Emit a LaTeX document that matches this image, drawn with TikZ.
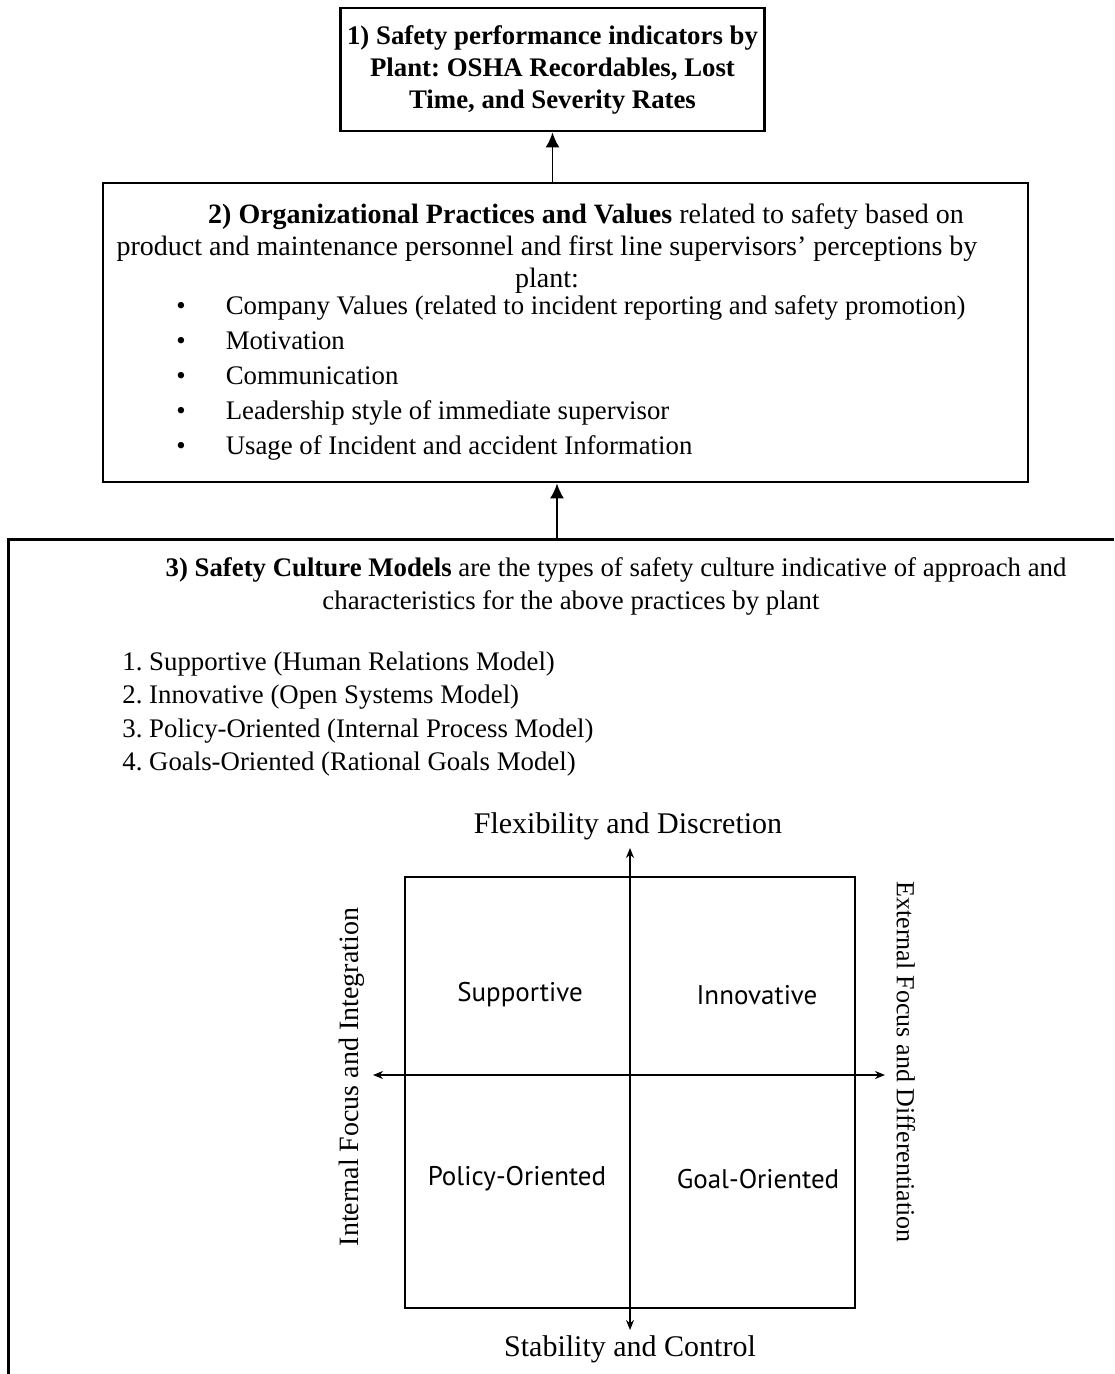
\documentclass[tikz,border=0pt]{standalone}
\usepackage{fontspec}
\setmainfont{Liberation Serif}
\newfontfamily\quadfont{PT Sans}
\usetikzlibrary{positioning, arrows.meta}
\frenchspacing

\tikzset{
  linkarrow/.style={-{Latex[length=7.5pt, width=7pt]}, line width=0.9pt},
  axisline/.style={{Stealth[length=5pt, width=4pt]}-{Stealth[length=5pt, width=4pt]}, line width=0.8pt},
  boxframe/.style={draw, line width=1.4pt},
  bodytext/.style={font=\fontsize{13.4}{16}\selectfont, inner sep=0pt},
  quadlabel/.style={font=\quadfont\fontsize{13.5}{15}\selectfont},
  axislabel/.style={font=\fontsize{15}{18}\selectfont},
}

\begin{document}
\begin{tikzpicture}[x=0.5pt, y=-0.5pt]
  \useasboundingbox (0,0) rectangle (1114,1374);

  % 1) indicators
  \node[boxframe, minimum width=209.5pt, minimum height=61.5pt, align=center,
        font=\bfseries\fontsize{13.4}{16}\selectfont] (perf) at (552.5,69.5)
        {1) Safety performance indicators by\\Plant: OSHA Recordables, Lost\\Time, and Severity Rates};

  % 2) practices and values
  \node[boxframe, minimum width=462.5pt, minimum height=149.5pt] (practices) at (565.5,332.5) {};
  \node[bodytext, align=center, font=\fontsize{14}{16}\selectfont] (practicesintro) at (547,249)
        {\hspace*{39pt}\textbf{2) Organizational Practices and Values} related to safety based on\\
         product and maintenance personnel and first line supervisors’ perceptions by\\
         plant:};
  \node[bodytext, align=left, anchor=west, font=\fontsize{13.4}{17.5}\selectfont] (practiceslist) at (176,378)
        {\textbullet\hspace{20pt}Company Values (related to incident reporting and safety promotion)\\
         \textbullet\hspace{20pt}Motivation\\
         \textbullet\hspace{20pt}Communication\\
         \textbullet\hspace{20pt}Leadership style of immediate supervisor\\
         \textbullet\hspace{20pt}Usage of Incident and accident Information};
  \draw[linkarrow] (perf.south |- practices.north) -- (perf.south);

  % 3) safety culture models (frame runs off the page)
  \coordinate (modelstop) at (557,539);
  \draw[line width=1.5pt] (1114,539) -- (8,539) -- (8,1374);
  \draw[linkarrow] (modelstop) -- (modelstop |- practices.south);
  \node[bodytext, align=center, font=\fontsize{13.4}{16.5}\selectfont] (modelsintro) at (571,586)
        {\hspace*{45pt}\textbf{3) Safety Culture Models} are the types of safety culture indicative of approach and\\
         characteristics for the above practices by plant};
  \node[bodytext, align=left, anchor=west, font=\fontsize{13.4}{16.8}\selectfont] (modelslist) at (122,714)
        {1. Supportive (Human Relations Model)\\
         2. Innovative (Open Systems Model)\\
         3. Policy-Oriented (Internal Process Model)\\
         4. Goals-Oriented (Rational Goals Model)};

  % quadrant chart
  \draw[line width=0.8pt] (405,877) rectangle (855,1308);
  \coordinate (flextip) at (630,848);
  \coordinate (stabtip) at (630,1330);
  \coordinate (inttip) at (373,1075);
  \coordinate (exttip) at (885,1075);
  \draw[axisline] (stabtip) -- (flextip);
  \draw[axisline] (inttip) -- (exttip);

  \node[axislabel] (flex) at (628,826) {Flexibility and Discretion};
  \node[axislabel] (stab) at (630,1349) {Stability and Control};
  \node[axislabel, font=\fontsize{14}{16}\selectfont, rotate=90] (internal) at (352,1077) {Internal Focus and Integration};
  \node[axislabel, font=\fontsize{13}{16}\selectfont, rotate=-90] (external) at (906,1062) {External Focus and Differentiation};

  \node[quadlabel] (supportive) at (520,995) {Supportive};
  \node[quadlabel] (innovative) at (757,995) {Innovative};
  \node[quadlabel] (policy) at (517,1179) {Policy-Oriented};
  \node[quadlabel] (goal) at (758,1179) {Goal-Oriented};
\end{tikzpicture}
\end{document}
